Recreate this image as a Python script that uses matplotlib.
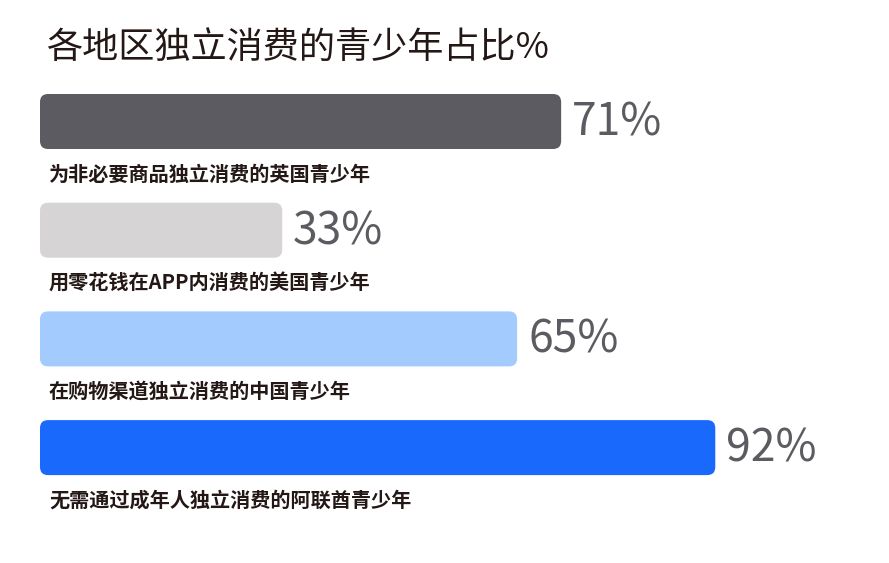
import matplotlib
matplotlib.use("Agg")
import matplotlib.pyplot as plt
from matplotlib.patches import FancyBboxPatch

plt.rcParams['font.family'] = ['Noto Sans CJK SC', 'DejaVu Sans']

title = "各地区独立消费的青少年占比%"
categories = ["为非必要商品独立消费的英国青少年",
              "用零花钱在APP内消费的美国青少年",
              "在购物渠道独立消费的中国青少年",
              "无需通过成年人独立消费的阿联酋青少年"]
values = [71, 33, 65, 92]
colors = ["#5c5b61", "#d6d4d4", "#a3cbfd", "#1a69fd"]

W, H = 889, 563
fig = plt.figure(figsize=(W / 100, H / 100), dpi=100)
fig.patch.set_facecolor("white")

px_per_unit = 7.34
left_px = 40
ax = fig.add_axes([left_px / W, 0, (W - left_px) / W, 1])
ax.set_xlim(0, (W - left_px) / px_per_unit)
ax.set_ylim(H, 0)
ax.axis("off")

bar_h = 55
first_top = 94
spacing = 108.7
r = 8
for i, (cat, v, c) in enumerate(zip(categories, values, colors)):
    top = first_top + i * spacing
    patch = FancyBboxPatch((0, top), v, bar_h,
                           boxstyle=f"round,pad=0,rounding_size={r / px_per_unit}",
                           mutation_aspect=px_per_unit,
                           facecolor=c, edgecolor="none")
    ax.add_patch(patch)
    ax.text(v + 11 / px_per_unit, top + bar_h / 2 + 1, f"{v}%", fontsize=32,
            color="#5c5b61", va="center", ha="left", fontweight="medium")
    ax.text(9 / px_per_unit, top + bar_h + 25, cat, fontsize=14.5,
            color="#231815", va="center", ha="left", fontweight="bold")

fig.text(47 / W, 1 - 48 / H, title, fontsize=26, color="#231815",
         va="center", ha="left", fontweight="medium")

fig.savefig("out.png", dpi=100, facecolor="white")
